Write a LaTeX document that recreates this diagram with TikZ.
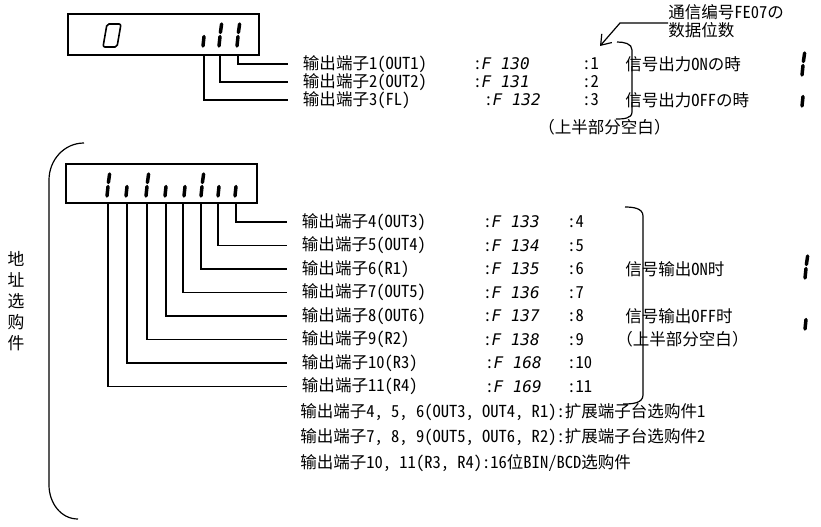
\documentclass[tikz,border=0pt]{standalone}
\usepackage{fontspec}
\setmainfont{Noto Sans Mono CJK SC}
\newfontfamily\segfont{DejaVu Sans Mono}
\usetikzlibrary{arrows.meta}

\tikzset{
  lbl/.style={anchor=west, inner xsep=11pt, inner ysep=0pt, font=\fontsize{12.4}{13.5}\selectfont},
  txt/.style={anchor=west, inner sep=0pt, font=\fontsize{12.4}{13.5}\selectfont},
  seg/.style={line width=2.6pt, line cap=round},
  wire/.style={line width=0.9pt},
  panel/.style={line width=1.1pt}
}
% lit digit and dark digit of the display (x, lower end)
\newcommand{\segon}[2]{%
  \draw[seg] (#1+2.6,#2-22) -- (#1+1.4,#2-13.5);
  \draw[seg] (#1+1,#2-9.5) -- (#1,#2);}
\newcommand{\segoff}[2]{%
  \draw[seg] (#1+1,#2-9.5) -- (#1,#2);}
\newcommand{\fcode}[1]{:{\segfont\itshape\fontsize{12}{12}\selectfont #1}}

\begin{document}
\begin{tikzpicture}[x=0.75pt, y=-0.75pt]
    \useasboundingbox (0,0) rectangle (821,526);

    % upper display
    \draw[panel] (68,14) rectangle (259,55);
    \draw[line width=1.2pt, rounded corners=1.5pt] (103,47)--(117,47)--(121,24)--(107,24)--cycle;
    \segoff{203}{46}
    \segon{219}{46}
    \segon{237}{46}
    \coordinate (o1) at (238,55);
    \coordinate (o2) at (220,55);
    \coordinate (o3) at (204,55);

    \node[lbl] (l1) at (288,64) {输出端子1(OUT1)};
    \node[lbl] (l2) at (288,82) {输出端子2(OUT2)};
    \node[lbl] (l3) at (288,100) {输出端子3(FL)};
    \draw[wire] (o1) |- (l1.west);
    \draw[wire] (o2) |- (l2.west);
    \draw[wire] (o3) |- (l3.west);

    \node[txt] (f1) at (473,64) {\fcode{F 130}};
    \node[txt] (f2) at (473,82) {\fcode{F 131}};
    \node[txt] (f3) at (484,100) {\fcode{F 132}};
    \node[txt] (n1) at (582,64) {:1};
    \node[txt] (n2) at (582,82) {:2};
    \node[txt] (n3) at (582,100) {:3};

    \node[txt] (on1) at (625,64) {信号出力ONの時};
    \node[txt] (off1) at (625,100) {信号出力OFFの時};
    \segon{802}{75}
    \segoff{802}{106}
    \node[txt] (blank1) at (538,127) {（上半部分空白）};

    \node[txt, align=left, font=\fontsize{12.4}{13.5}\selectfont] (bits) at (668,21) {通信编号FE07の\\数据位数};
    \coordinate (bitsend) at (600,46);
    \draw[wire, -{Straight Barb[length=7pt, width=10pt]}] (bits.west |- 0,23) -- (620,23) -- (bitsend);
    \draw[wire] (617,42) to[out=0, in=90] (632,50) -- (632,112) to[out=-90, in=0] (616,119);

    % lower display
    \draw[wire] (84,143) to[out=180, in=90] (49,180) -- (49,485) to[out=-90, in=180] (78,519);
    \node[txt, anchor=center, align=center, font=\fontsize{12.6}{15.8}\selectfont] (opt) at (16,301) {地\\址\\选\\购\\件};

    \draw[panel] (66,164) rectangle (257,203);
    \segon{107}{196}
    \segoff{126}{196}
    \segon{146}{196}
    \segoff{165}{196}
    \segoff{184}{196}
    \segon{201}{196}
    \segoff{218}{196}
    \segoff{235}{196}
    \coordinate (d4) at (236,203);
    \coordinate (d5) at (218,203);
    \coordinate (d6) at (201,203);
    \coordinate (d7) at (183,203);
    \coordinate (d8) at (166,203);
    \coordinate (d9) at (147,203);
    \coordinate (d10) at (127,203);
    \coordinate (d11) at (108,203);

    \node[lbl] (l4) at (287,222) {输出端子4(OUT3)};
    \node[lbl] (l5) at (287,245.5) {输出端子5(OUT4)};
    \node[lbl] (l6) at (287,269) {输出端子6(R1)};
    \node[lbl] (l7) at (287,292.5) {输出端子7(OUT5)};
    \node[lbl] (l8) at (287,316) {输出端子8(OUT6)};
    \node[lbl] (l9) at (287,339.5) {输出端子9(R2)};
    \node[lbl] (l10) at (287,363) {输出端子10(R3)};
    \node[lbl] (l11) at (287,386.5) {输出端子11(R4)};
    \draw[wire] (d4) |- (l4.west);
    \draw[wire] (d5) |- (l5.west);
    \draw[wire] (d6) |- (l6.west);
    \draw[wire] (d7) |- (l7.west);
    \draw[wire] (d8) |- (l8.west);
    \draw[wire] (d9) |- (l9.west);
    \draw[wire] (d10) |- (l10.west);
    \draw[wire] (d11) |- (l11.west);

    \node[txt] (f4) at (483,222) {\fcode{F 133}};
    \node[txt] (f5) at (483,245.5) {\fcode{F 134}};
    \node[txt] (f6) at (483,269) {\fcode{F 135}};
    \node[txt] (f7) at (483,292.5) {\fcode{F 136}};
    \node[txt] (f8) at (483,316) {\fcode{F 137}};
    \node[txt] (f9) at (483,339.5) {\fcode{F 138}};
    \node[txt] (f10) at (485,363) {\fcode{F 168}};
    \node[txt] (f11) at (485,386.5) {\fcode{F 169}};
    \node[txt] (n4) at (567,222) {:4};
    \node[txt] (n5) at (567,245.5) {:5};
    \node[txt] (n6) at (567,269) {:6};
    \node[txt] (n7) at (567,292.5) {:7};
    \node[txt] (n8) at (567,316) {:8};
    \node[txt] (n9) at (567,339.5) {:9};
    \node[txt] (n10) at (567,363) {:10};
    \node[txt] (n11) at (567,386.5) {:11};

    \draw[wire] (625,207) to[out=0, in=90] (643,216) -- (643,395) to[out=-90, in=0] (623,404);
    \node[txt] (on2) at (625,269) {信号输出ON时};
    \node[txt] (off2) at (625,316) {信号输出OFF时};
    \node[txt] (blank2) at (616,339.5) {（上半部分空白）};
    \segon{805}{278}
    \segoff{805}{329}

    \node[txt] (note1) at (300,412) {输出端子4, 5, 6(OUT3, OUT4, R1):扩展端子台选购件1};
    \node[txt] (note2) at (300,437.5) {输出端子7, 8, 9(OUT5, OUT6, R2):扩展端子台选购件2};
    \node[txt] (note3) at (300,463) {输出端子10, 11(R3, R4):16位BIN/BCD选购件};
\end{tikzpicture}
\end{document}
